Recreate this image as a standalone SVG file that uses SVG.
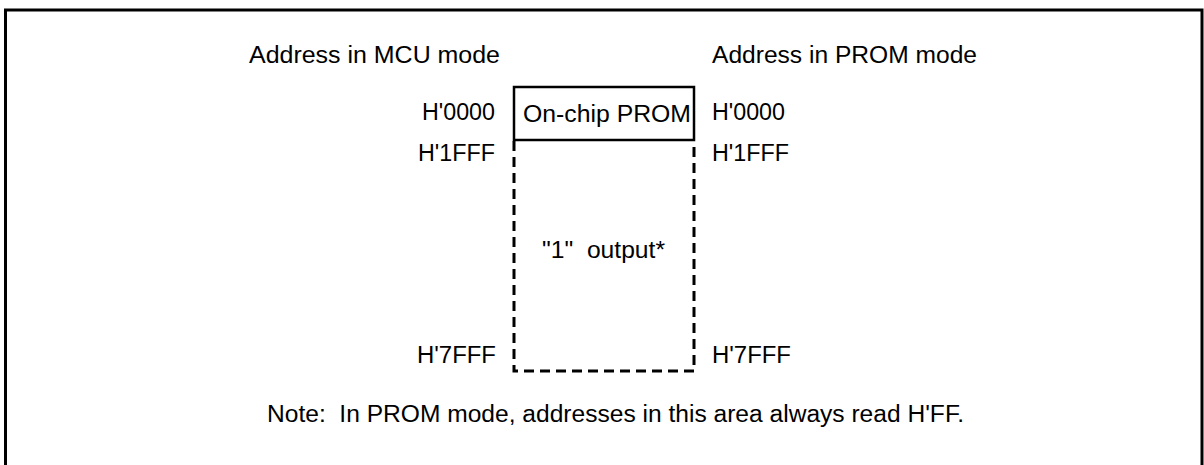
<svg xmlns="http://www.w3.org/2000/svg" width="1204" height="465" viewBox="0 0 1204 465">
<style>
text{font-family:"Liberation Sans",Arial,sans-serif;font-size:23px;fill:#000;white-space:pre}
.solid{fill:none;stroke:#000;stroke-width:2.5}
.dash{fill:none;stroke:#000;stroke-width:3;stroke-dasharray:10 6}
</style>
<rect width="1204" height="465" fill="#fff"/>
<path d="M5.5,465 V10 H1202 V465" fill="none" stroke="#000" stroke-width="3"/>
<g id="headers">
<text x="249" y="63" textLength="251" lengthAdjust="spacingAndGlyphs">Address in MCU mode</text>
<text x="712" y="63" textLength="265" lengthAdjust="spacingAndGlyphs">Address in PROM mode</text>
</g>
<g id="prom">
<rect class="solid" x="514" y="87" width="180" height="53"/>
<text x="523" y="122" textLength="168" lengthAdjust="spacingAndGlyphs">On-chip PROM</text>
</g>
<g id="output-area">
<path class="dash" d="M514,141 V371 H694 V141"/>
<text x="542" y="258" textLength="123" lengthAdjust="spacingAndGlyphs">"1"  output*</text>
</g>
<g id="mcu-addresses">
<text x="422" y="120" textLength="73" lengthAdjust="spacingAndGlyphs">H'0000</text>
<text x="418" y="161" textLength="77" lengthAdjust="spacingAndGlyphs">H'1FFF</text>
<text x="417" y="363" textLength="79" lengthAdjust="spacingAndGlyphs">H'7FFF</text>
</g>
<g id="prom-addresses">
<text x="712" y="120" textLength="73" lengthAdjust="spacingAndGlyphs">H'0000</text>
<text x="712" y="161" textLength="77" lengthAdjust="spacingAndGlyphs">H'1FFF</text>
<text x="712" y="363" textLength="79" lengthAdjust="spacingAndGlyphs">H'7FFF</text>
</g>
<g id="note">
<text x="267" y="422" textLength="697" lengthAdjust="spacingAndGlyphs">Note:  In PROM mode, addresses in this area always read H'FF.</text>
</g>
</svg>
